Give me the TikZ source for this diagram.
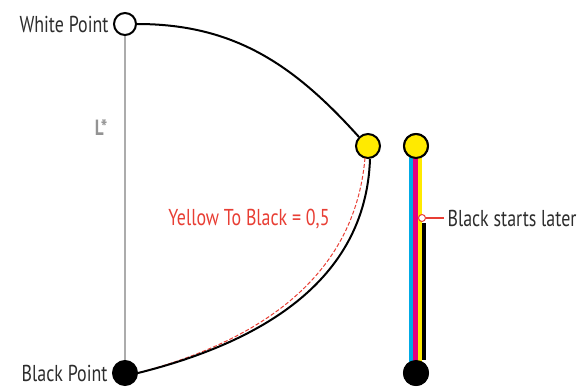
\documentclass[tikz,border=0pt]{standalone}
\usepackage{fontspec}
\setmainfont{PT Sans}[FakeStretch=0.78, BoldFont={PT Sans Bold}]
\usetikzlibrary{positioning}

\definecolor{labelred}{RGB}{232,62,52}
\definecolor{inkgray}{RGB}{45,45,45}
\definecolor{dotyellow}{RGB}{255,234,0}
\definecolor{stripcyan}{RGB}{0,170,230}
\definecolor{stripmagenta}{RGB}{230,0,126}

\begin{document}
\begin{tikzpicture}[
        x=1pt, y=1pt,
        every node/.style={draw=none, align=center, inner ysep=0pt, text depth=0pt, font=\fontsize{23}{24}\selectfont, text=inkgray},
        point/.style={circle, draw=black, line width=2pt, minimum size=22pt, inner sep=0pt},
        curve/.style={line width=2pt, black}
    ]
        \useasboundingbox (0,0) rectangle (580,386);

        % end points and the yellow one
        \node[point, fill=white] (white) at (125,362) {};
        \node[point, fill=black, minimum size=24pt] (black) at (125,13) {};
        \node[point, fill=dotyellow, minimum size=24pt] (yellow) at (368,240) {};
        \node[point, fill=dotyellow, minimum size=24pt] (yellow2) at (416,240) {};
        \node[point, fill=black, minimum size=24pt] (black2) at (416,13) {};

        % L* axis
        \draw[gray!65, line width=1.4pt] (white) -- (black);
        \node[text=gray!85, font=\fontsize{22}{24}\selectfont\bfseries] (lstar) at (101,259) {L*};

        \node[left=1pt of white] (wlabel) {White Point};
        \node[left=1pt of black] (blabel) {Black Point};

        % the two curves
        \draw[curve] (white.east) to[out=0, in=132] (yellow.north west);
        \draw[labelred, line width=1pt, dash pattern=on 4pt off 2pt]
            (yellow.south) ++(-3,1) to[out=-95, in=15] (black.east);
        \draw[curve] (yellow.south) ++(2,0) to[out=-92, in=14] (black.east);
        \node[text=labelred] (ratio) at (249,169) {Yellow To Black = 0,5};

        % ink strips
        \coordinate (kstart) at (424,163);
        \fill[stripcyan] (409,13) rectangle (413,230);
        \fill[stripmagenta] (413,13) rectangle (417.5,230);
        \fill[dotyellow] (417.5,13) rectangle (422,230);
        \draw[black, line width=4pt] (kstart) -- (black2.north -| kstart);
        \node[point, fill=dotyellow, minimum size=24pt] at (yellow2) {};
        \node[point, fill=black, minimum size=24pt] at (black2) {};

        % where black begins
        \node[circle, draw=labelred, line width=1pt, minimum size=7pt, inner sep=0pt, fill=white] (kmark) at (422,168) {};
        \node[anchor=west] (klabel) at (444,168) {Black starts later};
        \draw[labelred, line width=1.2pt] (kmark) -- (klabel.west);
\end{tikzpicture}
\end{document}
